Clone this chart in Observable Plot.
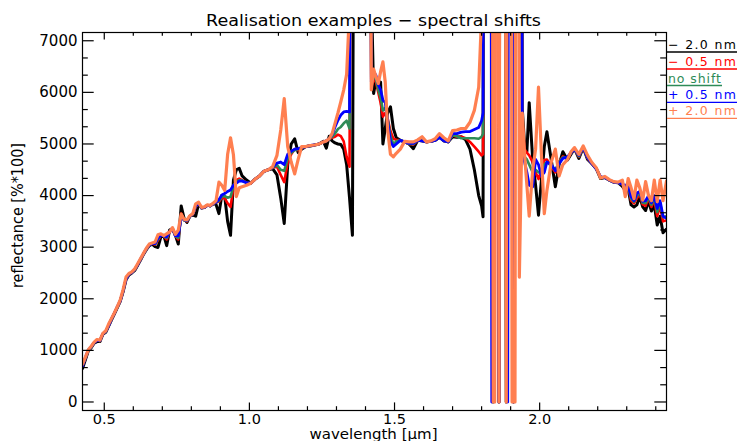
<!DOCTYPE html>
<html><head><meta charset="utf-8">
<script src="https://cdn.jsdelivr.net/npm/d3@7"></script>
<script src="https://cdn.jsdelivr.net/npm/@observablehq/plot@0.6"></script>
<style>body{margin:0;background:#fff;} svg{display:block;}</style>
</head><body><div id="chart"></div>
<script>
// ---------------- data ----------------
const wavelength = [
 0.425,0.435,0.445,0.455,0.465,0.475,0.485,0.495,0.505,0.515,0.525,0.535,0.545,0.555,0.565,0.575,0.585,0.595,0.605,0.615,0.625,0.635,0.645,0.655,
 0.665,0.675,0.685,0.695,0.705,0.715,0.725,0.735,0.745,0.755,0.765,0.775,0.785,0.795,0.805,0.815,0.825,0.835,0.845,0.855,0.865,0.875,0.885,0.895,0.905,0.915,
 0.925,0.935,0.945,0.955,0.965,0.975,0.99,1.005,1.02,1.035,1.05,1.065,1.08,
 1.095,1.108,1.12,1.132,1.144,1.156,1.168,1.18,1.195,1.21,1.225,1.24,1.255,1.265,1.275,1.285,
 1.295,1.305,1.315,1.325,1.335,1.345,1.355,1.365,1.39,1.41,
 1.42,1.428,1.436,1.444,1.452,1.46,1.468,1.476,1.486,1.496,1.506,1.52,
 1.535,1.55,1.565,1.58,1.595,1.61,1.625,1.64,1.655,1.67,1.685,1.7,1.715,1.73,1.745,1.76,1.775,1.79,1.8,
 1.805,1.81,1.815,1.82,1.825,1.83,1.835,1.84,1.845,1.85,1.855,1.86,1.865,1.87,1.875,1.88,1.885,1.89,1.895,1.9,1.905,1.91,1.915,1.92,1.925,1.93,1.935,
 1.94,1.948,1.956,1.964,1.976,1.986,1.996,2.006,2.016,2.025,2.04,2.054,2.067,2.08,2.096,2.108,2.12,
 2.135,2.15,2.165,2.18,2.195,2.21,2.225,2.24,2.255,2.27,2.285,2.295,2.305,2.315,2.325,2.335,2.345,2.355,2.365,2.375,2.385,2.395,2.405,2.415,2.425,2.437
];

// shift -2.0 nm (black)
const minus2 = [
 650,820,990,1050,1140,1170,1170,1310,1350,1470,1590,1710,1830,1950,2140,2370,2460,2500,2550,2650,2750,2860,2950,3030,
 3060,3010,2995,3200,3230,3030,3330,3360,3230,3060,3800,3560,3480,3600,3620,3600,3840,3760,3770,3810,3800,3840,3830,3650,4000,3980,
 3500,3230,4300,4500,4530,4380,4300,4240,4320,4380,4470,4500,4520,
 4400,3950,3460,4600,5000,5100,4830,4900,4950,4960,4980,5000,5050,4920,5150,5060,
 5020,5000,4990,4900,4600,3950,3230,2e4,2e4,2e4,
 8000,5980,6240,6080,6200,5000,5300,5600,5720,5300,5120,5070,
 5040,5000,4910,5070,5060,5040,5050,5070,5130,5060,5040,5140,5130,5140,5080,4900,4500,4000,3800,
 3590,2e4,2e4,2e4,2e4,2e4,2e4,0,2e4,2e4,2e4,0,2e4,2e4,2e4,2e4,0,2e4,2e4,2e4,2e4,0,2e4,2e4,2e4,2e4,2e4,
 5690,5000,4850,5800,4690,4200,3620,4300,4950,5236,4690,4170,4600,4850,4690,4800,4910,
 4720,4930,4700,4620,4520,4330,4350,4300,4260,4250,4180,4100,4130,3820,3780,3820,3980,3780,3710,3900,3700,3820,3430,3600,3280,3350
];

// shift -0.5 nm (red)
const minus05 = [
 710,850,1000,1060,1150,1200,1180,1320,1360,1480,1600,1720,1840,1960,2150,2380,2470,2510,2560,2660,2760,2870,2960,3040,
 3070,3050,3130,3230,3220,3150,3300,3360,3220,3150,3650,3520,3500,3600,3640,3780,3850,3760,3770,3810,3800,3840,3870,3880,3960,3950,
 3850,3780,4150,4300,4330,4300,4250,4240,4320,4380,4470,4500,4540,
 4560,4400,4260,4640,4800,4900,4880,4930,4950,4970,4980,5000,5040,5060,5100,5120,
 5140,5180,5150,5050,4750,4560,2e4,2e4,2e4,2e4,
 6100,6250,6200,6000,5800,5530,5600,5500,5250,5100,5080,5070,
 5040,5000,4990,5070,5060,5040,5050,5070,5130,5060,5040,5170,5140,5140,5110,5040,4950,4850,4780,
 4800,2e4,2e4,2e4,2e4,2e4,2e4,2e4,0,2e4,2e4,0,2e4,2e4,2e4,2e4,0,2e4,2e4,2e4,2e4,0,2e4,2e4,2e4,2e4,2e4,
 5460,4900,4830,4780,4650,4450,4320,4500,4690,4700,4560,4450,4650,4760,4720,4820,4900,
 4750,4930,4720,4620,4520,4360,4350,4300,4260,4250,4220,4150,4170,3900,3850,3950,4030,3830,3800,3950,3780,3920,3600,3800,3500,3520
];

// no shift (green)
const noShift = [
 710,850,1000,1060,1150,1200,1180,1320,1360,1480,1600,1720,1840,1960,2150,2380,2470,2510,2560,2660,2760,2870,2960,3040,
 3070,3060,3150,3230,3220,3180,3300,3360,3220,3180,3620,3520,3510,3600,3640,3790,3850,3760,3770,3810,3800,3840,3870,3900,3980,3990,
 3960,3975,4180,4270,4300,4290,4250,4240,4320,4380,4470,4500,4540,
 4590,4500,4480,4720,4830,4880,4900,4930,4950,4970,4980,5000,5040,5060,5100,5140,
 5200,5290,5330,5400,5450,5300,2e4,2e4,2e4,2e4,
 6150,6300,6250,6050,5900,5650,5700,5500,5150,5000,5050,5070,
 5040,5000,5000,5070,5060,5040,5050,5070,5130,5060,5040,5170,5150,5110,5110,5110,5110,5100,5140,
 5200,2e4,2e4,2e4,2e4,2e4,2e4,0,2e4,2e4,2e4,0,2e4,2e4,2e4,2e4,0,2e4,2e4,2e4,2e4,0,2e4,2e4,2e4,2e4,2e4,
 5200,4750,4700,4600,4450,4500,4450,4450,4600,4650,4580,4500,4650,4740,4740,4820,4900,
 4760,4930,4730,4620,4520,4360,4350,4300,4260,4250,4220,4170,4190,3940,3880,4000,4050,3860,3850,3970,3820,3960,3680,3850,3580,3600
];

// shift +0.5 nm (blue)
const plus05 = [
 690,860,1010,1070,1150,1190,1190,1320,1370,1480,1610,1720,1850,1960,2160,2380,2480,2510,2570,2660,2770,2870,2970,3040,
 3070,3070,3170,3230,3220,3200,3300,3360,3220,3220,3580,3530,3520,3600,3640,3800,3850,3760,3770,3810,3800,3840,3870,3920,4010,4040,
 4080,4110,4200,4240,4280,4280,4250,4240,4320,4380,4470,4500,4550,
 4630,4650,4600,4800,4860,4900,4910,4930,4950,4970,4980,5000,5040,5060,5100,5180,
 5330,5460,5560,5620,5630,5620,2e4,2e4,2e4,2e4,
 6200,6400,6330,6150,6050,5850,5800,5450,5050,4950,5000,5070,
 5040,5010,5010,5070,5060,5040,5050,5070,5130,5060,5040,5200,5200,5230,5240,5240,5280,5320,5450,
 5600,2e4,2e4,2e4,2e4,2e4,0,2e4,2e4,2e4,2e4,0,2e4,2e4,2e4,2e4,2e4,0,2e4,2e4,2e4,0,2e4,2e4,2e4,2e4,2e4,
 5000,4650,4450,4200,4170,4700,4600,4380,4450,4650,4600,4480,4620,4720,4750,4830,4900,
 4780,4930,4740,4620,4520,4360,4350,4300,4260,4250,4220,4200,4200,3980,3900,4050,4080,3890,3900,4000,3860,4000,3750,3900,3600,3560
];

// shift +2.0 nm (coral)
const plus2 = [
 730,870,1010,1080,1160,1210,1200,1330,1380,1510,1620,1730,1850,1980,2180,2420,2490,2520,2580,2680,2780,2880,2980,3060,
 3080,3100,3240,3260,3220,3260,3290,3380,3250,3330,3640,3540,3530,3610,3650,3840,3870,3770,3780,3820,3810,3850,3900,4260,4200,4100,
 4800,5120,4790,3980,4150,4170,4200,4240,4320,4380,4470,4500,4560,
 4780,5270,5880,4950,4650,4420,4700,4950,4950,4970,4980,5000,5040,5060,5100,5200,
 5400,5600,5820,6050,6350,7600,2e4,2e4,2e4,2e4,
 6050,6450,6300,6170,6400,6590,6200,5300,4800,4750,4820,4900,
 5050,5040,5040,5080,5140,5040,5060,5100,5200,5120,5060,5260,5270,5300,5300,5420,5650,6100,7500,
 2e4,2e4,2e4,2e4,2e4,2e4,2e4,0,0,2e4,2e4,0,2e4,2e4,2e4,2e4,0,2e4,2e4,2e4,0,0,0,2e4,2e4,2420,4000,
 5600,4800,4200,3600,4500,4900,6100,4800,3650,4100,4650,4900,4380,4600,4700,4850,4930,
 4800,4960,4780,4640,4540,4340,4370,4310,4270,4260,4300,3980,4330,4150,3940,4300,4150,3910,4270,4000,3900,4300,3880,4300,3900,4280
];

const seriesNames = ["\u2212 2.0 nm", "\u2212 0.5 nm", "no shift", "+ 0.5 nm", "+ 2.0 nm"];
const seriesColors = ["#000000", "#ff0000", "#2e8b57", "#0000ff", "#ff7f50"];
const seriesValues = [minus2, minus05, noShift, plus05, plus2];

const xMajorTicks = [0.5, 1.0, 1.5, 2.0];
const xMinorTicks = [0.6,0.7,0.8,0.9,1.1,1.2,1.3,1.4,1.6,1.7,1.8,1.9,2.1,2.2,2.3,2.4];
const yMajorTicks = [0,1000,2000,3000,4000,5000,6000,7000];
const yMinorTicks = [333.3,666.7,1333.3,1666.7,2333.3,2666.7,3333.3,3666.7,4333.3,4666.7,5333.3,5666.7,6333.3,6666.7];

const titleText = "Realisation examples \u2212 spectral shifts";
const xLabelText = "wavelength [\u03bcm]";
const yLabelText = "reflectance [%*100]";

// ---------------- layout ----------------
const W = 739, H = 441, mL = 82, mR = 73, mT = 32, mB = 31;
const plotW = W - mL - mR, plotH = H - mT - mB;
const font = "DejaVu Sans";
const widths = [3, 2.6, 2.6, 2.8, 3.2];

seriesValues.forEach((s, k) => { if (s.length !== wavelength.length) console.error("length mismatch", k, s.length, wavelength.length); });

const lineMarks = seriesValues.map((vals, k) =>
  Plot.line(wavelength.map((w, i) => ({w, v: vals[i]})), {
    x: "w", y: "v", stroke: seriesColors[k], strokeWidth: widths[k],
    strokeLinejoin: "round", strokeLinecap: "round", clip: true
  })
);

const xMajLen = 7.6, xMinLen = 3.8, yMajLen = 11.7, yMinLen = 5.8;

const chart = Plot.plot({
  width: W, height: H,
  marginLeft: mL, marginRight: mR, marginTop: mT, marginBottom: mB,
  x: {domain: [0.425, 2.437]},
  y: {domain: [-165, 7160]},
  style: {fontFamily: font, fontSize: "15px", color: "black", background: "white"},
  marks: [
    ...lineMarks,
    Plot.frame({stroke: "black", strokeWidth: 1.2}),
    Plot.tickX(xMajorTicks, {x: d => d, insetTop: plotH - xMajLen, stroke: "black", strokeWidth: 1.2}),
    Plot.tickX(xMinorTicks, {x: d => d, insetTop: plotH - xMinLen, stroke: "black", strokeWidth: 1.2}),
    Plot.tickX(xMajorTicks, {x: d => d, insetBottom: plotH - xMajLen, stroke: "black", strokeWidth: 1.2}),
    Plot.tickX(xMinorTicks, {x: d => d, insetBottom: plotH - xMinLen, stroke: "black", strokeWidth: 1.2}),
    Plot.tickY(yMajorTicks, {y: d => d, insetRight: plotW - yMajLen, stroke: "black", strokeWidth: 1.2}),
    Plot.tickY(yMinorTicks, {y: d => d, insetRight: plotW - yMinLen, stroke: "black", strokeWidth: 1.2}),
    Plot.tickY(yMajorTicks, {y: d => d, insetLeft: plotW - yMajLen, stroke: "black", strokeWidth: 1.2}),
    Plot.tickY(yMinorTicks, {y: d => d, insetLeft: plotW - yMinLen, stroke: "black", strokeWidth: 1.2}),
    Plot.axisX({ticks: xMajorTicks, tickSize: 0, tickPadding: 3, tickFormat: d3.format(".1f"), label: null, fontSize: 14.5}),
    Plot.axisY({ticks: yMajorTicks, tickSize: 0, tickPadding: 5, tickFormat: d => String(d), label: null, fontSize: 15})
  ]
});

document.getElementById("chart").appendChild(chart);

// ---------------- texts ----------------
const svg = d3.select(chart);
const g = svg.append("g").attr("font-family", font).attr("fill", "black").attr("text-anchor", "start");

g.append("text").attr("x", 373.5).attr("y", 26).attr("text-anchor", "middle")
  .attr("font-size", 16.5).attr("textLength", 335).attr("lengthAdjust", "spacingAndGlyphs").text(titleText);

g.append("text").attr("x", 373.5).attr("y", 439).attr("text-anchor", "middle")
  .attr("font-size", 14).attr("textLength", 128).attr("lengthAdjust", "spacingAndGlyphs").text(xLabelText);

g.append("text").attr("transform", "translate(23,215.5) rotate(-90)").attr("text-anchor", "middle")
  .attr("font-size", 15).attr("textLength", 145).attr("lengthAdjust", "spacingAndGlyphs").text(yLabelText);

const legendBase = [49, 66, 82.5, 99.3, 115.3];
const legendW = [68, 68, 53, 68, 68];
seriesNames.forEach((name, k) => {
  g.append("text").attr("x", 668).attr("y", legendBase[k]).attr("font-size", 12.5).attr("text-anchor", "start")
    .attr("fill", seriesColors[k]).attr("textLength", legendW[k]).attr("lengthAdjust", "spacing").text(name);
  g.append("line").attr("x1", 667).attr("x2", 668 + legendW[k] + 1)
    .attr("y1", legendBase[k] + 3).attr("y2", legendBase[k] + 3)
    .attr("stroke", seriesColors[k]).attr("stroke-width", 1.3);
});
</script></body></html>
